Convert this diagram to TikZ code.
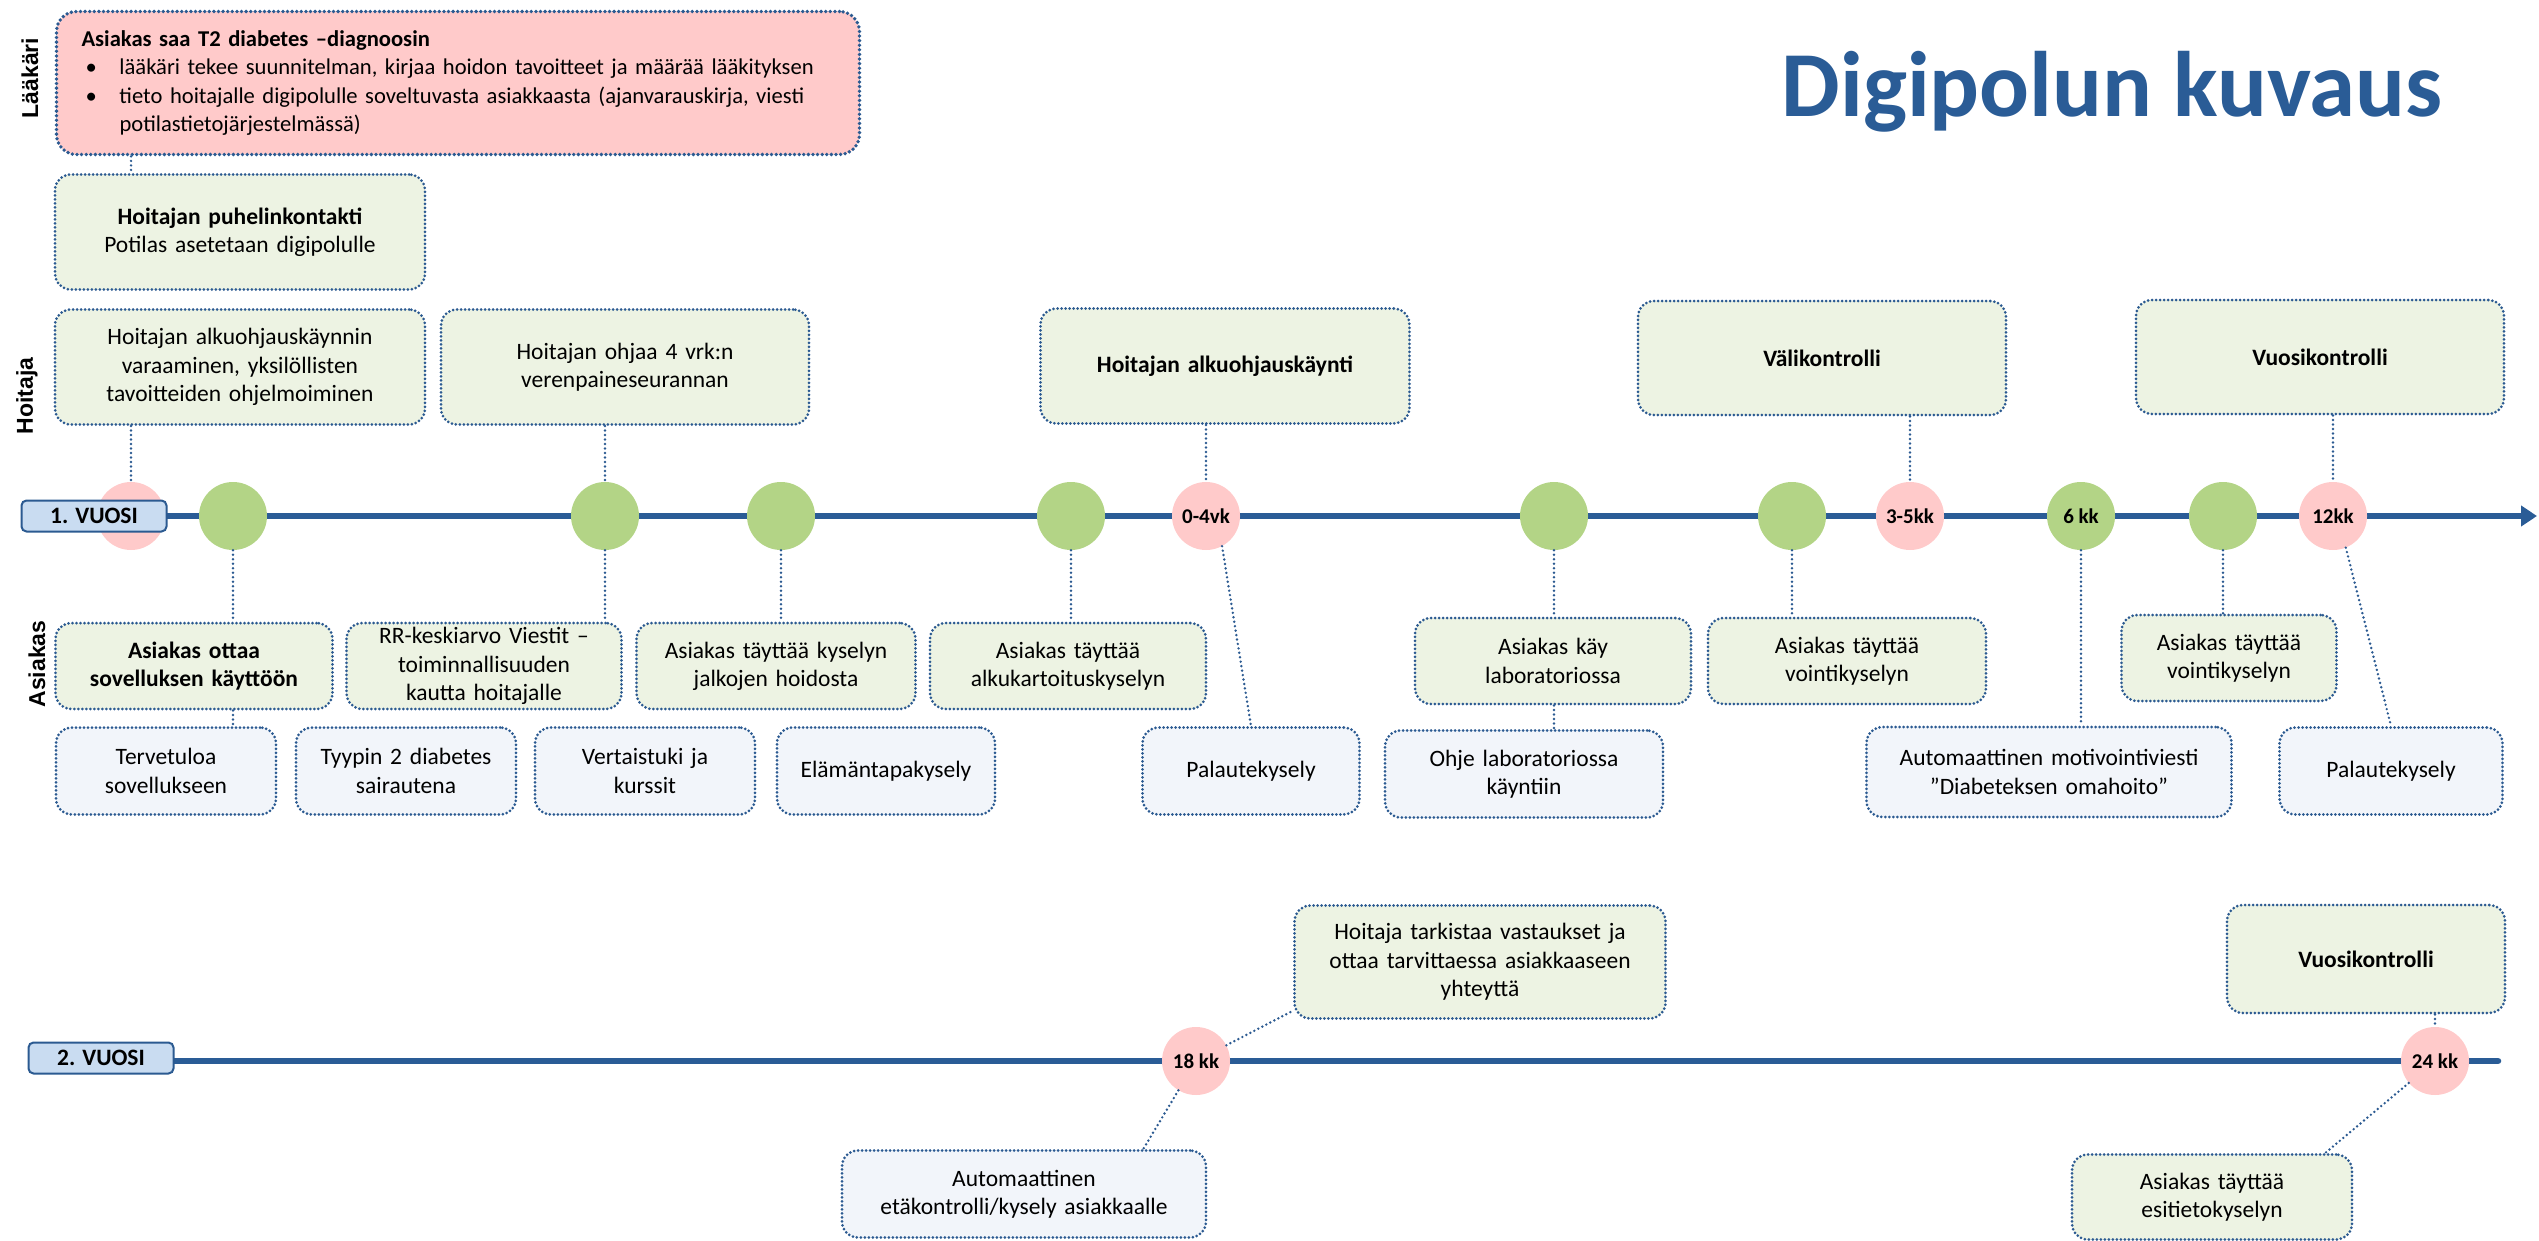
\documentclass[tikz,border=0pt]{standalone}
\usepackage{fontspec}
\setmainfont{Carlito}
\newfontfamily\lanefont{Liberation Sans}
\usetikzlibrary{arrows.meta,calc}
\definecolor{dpBlue}{HTML}{2A5C96}
\definecolor{dpEdge}{HTML}{2B5A91}
\definecolor{dpPink}{HTML}{FFCACA}
\definecolor{dpGreen}{HTML}{B3D486}
\definecolor{dpPale}{HTML}{EDF3E3}
\definecolor{dpMist}{HTML}{F2F5FA}
\definecolor{dpYearFill}{HTML}{C9DCF1}
\newcommand\dpText{\fontsize{23.5}{28.3}\selectfont}
\newcommand\dpBullet{\makebox[38pt][l]{\hspace{4pt}•}}

\begin{document}
\begin{tikzpicture}[x=1pt,y=-1pt,
    dpBox/.style={draw=dpEdge,line width=3pt,line cap=round,dash pattern=on 0pt off 4pt,
        rounded corners=16pt,inner sep=0pt,align=center,font=\dpText},
    dpBoxG/.style={dpBox,fill=dpPale},
    dpBoxB/.style={dpBox,fill=dpMist},
    dpDoc/.style={dpBox,fill=dpPink,line width=3.8pt,dash pattern=on 0pt off 4.6pt,
        rounded corners=20pt,align=left,inner xsep=25pt,font=\fontsize{22.6}{28.3}\selectfont},
    dpDotG/.style={circle,fill=dpGreen,minimum size=68pt,inner sep=0pt},
    dpDotP/.style={circle,fill=dpPink,minimum size=68pt,inner sep=0pt,
        font=\fontsize{21}{21}\selectfont\bfseries},
    dpYear/.style={draw=dpEdge,fill=dpYearFill,line width=2pt,rounded corners=5pt,
        minimum width=145pt,minimum height=31pt,inner sep=0pt,font=\dpText\bfseries},
    dpAxis/.style={draw=dpBlue,line width=6.5pt},
    dpLink/.style={draw=dpEdge,line width=2.7pt,line cap=round,dash pattern=on 0pt off 4.5pt},
    dpLane/.style={rotate=90,font=\lanefont\bfseries\fontsize{23}{23}\selectfont},
]
\useasboundingbox (0,0) rectangle (2539,1241);

% Title and lanes
\node[anchor=base,text=dpBlue,font=\fontsize{93}{100}\selectfont\bfseries] (title) at (2112,117) {Digipolun kuvaus};
\node[dpLane] (lDoc) at (30,78) {Lääkäri};
\node[dpLane] (lNurse) at (27,396) {Hoitaja};
\node[dpLane] (lClient) at (37,664) {Asiakas};

% Lääkäri
\node[dpDoc,text width=753pt,minimum height=143pt] (doc) at (458,83) {%
\mbox{\textbf{Asiakas saa T2 diabetes –diagnoosin}}\\
\mbox{\dpBullet lääkäri tekee suunnitelman, kirjaa hoidon tavoitteet ja määrää lääkityksen}\\
\mbox{\dpBullet tieto hoitajalle digipolulle soveltuvasta asiakkaasta (ajanvarauskirja, viesti}\\
\mbox{\hspace*{38pt}potilastietojärjestelmässä)}};

% Hoitaja
\node[dpBoxG,text width=370pt,minimum height=115pt] (hCall) at (240,232) {\textbf{Hoitajan puhelinkontakti}\\Potilas asetetaan digipolulle};
\node[dpBoxG,text width=370pt,minimum height=115pt] (hBook) at (240,367) {Hoitajan alkuohjauskäynnin\\varaaminen, yksilöllisten\\tavoitteiden ohjelmoiminen};
\node[dpBoxG,text width=368pt,minimum height=115pt] (hBP) at (625,367) {Hoitajan ohjaa 4 vrk:n\\verenpaineseurannan};
\node[dpBoxG,text width=369pt,minimum height=115pt] (hVisit) at (1225,366) {\textbf{Hoitajan alkuohjauskäynti}};
\node[dpBoxG,text width=368pt,minimum height=114pt] (hMid) at (1822,358) {\textbf{Välikontrolli}};
\node[dpBoxG,text width=368pt,minimum height=114pt] (hYear) at (2320,357) {\textbf{Vuosikontrolli}};

% 1. vuosi
\coordinate (start1) at (100,516);
\coordinate (end1) at (2537,516);
\draw[dpAxis,-{Triangle[length=16pt,width=20pt]}] (start1) -- (end1);
\node[dpDotP] (pS) at (131,516) {};
\node[dpDotG] (g1) at (233,516) {};
\node[dpDotG] (g2) at (605,516) {};
\node[dpDotG] (g3) at (781,516) {};
\node[dpDotG] (g4) at (1071,516) {};
\node[dpDotP] (p04) at (1206,516) {0-4vk};
\node[dpDotG] (g5) at (1554,516) {};
\node[dpDotG] (g6) at (1792,516) {};
\node[dpDotP] (p35) at (1910,516) {3-5kk};
\node[dpDotG,font=\fontsize{21}{21}\selectfont\bfseries] (g7) at (2081,516) {6 kk};
\node[dpDotG] (g8) at (2223,516) {};
\node[dpDotP] (p12) at (2333,516) {12kk};
\node[dpYear] (y1) at (94,516) {1. VUOSI};

% Asiakas
\node[dpBoxG,text width=277pt,minimum height=86pt] (aApp) at (194,666) {\textbf{Asiakas ottaa}\\\textbf{sovelluksen käyttöön}};
\node[dpBoxG,text width=275pt,minimum height=86pt] (aRR) at (484,666) {RR-keskiarvo Viestit –\\toiminnallisuuden\\kautta hoitajalle};
\node[dpBoxG,text width=279pt,minimum height=86pt] (aFeet) at (776,666) {Asiakas täyttää kyselyn\\jalkojen hoidosta};
\node[dpBoxG,text width=276pt,minimum height=86pt] (aInit) at (1068,666) {Asiakas täyttää\\alkukartoituskyselyn};
\node[dpBoxG,text width=276pt,minimum height=86pt] (aLab) at (1553,661) {Asiakas käy\\laboratoriossa};
\node[dpBoxG,text width=278pt,minimum height=86pt] (aWell) at (1847,661) {Asiakas täyttää\\vointikyselyn};
\node[dpBoxG,text width=215pt,minimum height=86pt] (aWell2) at (2229,658) {Asiakas täyttää\\vointikyselyn};

\node[dpBoxB,text width=220pt,minimum height=87pt] (bWelcome) at (166,771) {Tervetuloa\\sovellukseen};
\node[dpBoxB,text width=220pt,minimum height=87pt] (bType) at (406,771) {Tyypin 2 diabetes\\sairautena};
\node[dpBoxB,text width=220pt,minimum height=87pt] (bPeer) at (645,771) {Vertaistuki ja\\kurssit};
\node[dpBoxB,text width=218pt,minimum height=87pt] (bLife) at (886,771) {Elämäntapakysely};
\node[dpBoxB,text width=217pt,minimum height=87pt] (bFeed) at (1251,771) {Palautekysely};
\node[dpBoxB,text width=278pt,minimum height=87pt] (bLab) at (1524,774) {Ohje laboratoriossa\\käyntiin};
\node[dpBoxB,text width=365pt,minimum height=90pt] (bMotiv) at (2049,772) {Automaattinen motivointiviesti\\”Diabeteksen omahoito”};
\node[dpBoxB,text width=223pt,minimum height=87pt] (bFeed2) at (2391,771) {Palautekysely};

% 2. vuosi
\coordinate (start2) at (100,1061);
\coordinate (end2) at (2498,1061);
\draw[dpAxis,line cap=round] (start2) -- (end2);
\node[dpDotP] (p18) at (1196,1061) {18 kk};
\node[dpDotP] (p24) at (2435,1061) {24 kk};
\node[dpYear] (y2) at (101,1058) {2. VUOSI};
\node[dpBoxG,text width=371pt,minimum height=113pt] (hCheck) at (1480,962) {Hoitaja tarkistaa vastaukset ja\\ottaa tarvittaessa asiakkaaseen\\yhteyttä};
\node[dpBoxG,text width=278pt,minimum height=108pt] (hYear2) at (2366,959) {\textbf{Vuosikontrolli}};
\node[dpBoxB,text width=364pt,minimum height=87pt] (bRemote) at (1024,1194) {Automaattinen\\etäkontrolli/kysely asiakkaalle};
\node[dpBoxG,text width=280pt,minimum height=85pt] (aPre) at (2212,1197) {Asiakas täyttää\\esitietokyselyn};

% Links
\draw[dpLink] (pS |- doc.south) -- (pS |- hCall.north);
\draw[dpLink] (pS |- hBook.south) -- (pS);
\draw[dpLink] (g2 |- hBP.south) -- (g2);
\draw[dpLink] (p04 |- hVisit.south) -- (p04);
\draw[dpLink] (p35 |- hMid.south) -- (p35);
\draw[dpLink] (p12 |- hYear.south) -- (p12);
\draw[dpLink] (g1) -- (g1 |- aApp.north);
\draw[dpLink] (g1 |- aApp.south) -- (g1 |- bWelcome.north);
\draw[dpLink] (g2) -- (g2 |- aRR.north);
\draw[dpLink] (g3) -- (g3 |- aFeet.north);
\draw[dpLink] (g4) -- (g4 |- aInit.north);
\draw[dpLink] (p04.-62) -- (bFeed.north);
\draw[dpLink] (g5) -- (g5 |- aLab.north);
\draw[dpLink] (g5 |- aLab.south) -- (g5 |- bLab.north);
\draw[dpLink] (g6) -- (g6 |- aWell.north);
\draw[dpLink] (g7) -- (g7 |- bMotiv.north);
\draw[dpLink] (g8) -- (g8 |- aWell2.north);
\draw[dpLink] (p12.-68) -- (bFeed2.north);
\draw[dpLink] (p18) -- ($(hCheck.south west)!0.08!(hCheck.north west)$);
\draw[dpLink] (p18) -- ($(bRemote.north)!0.65!(bRemote.north east)$);
\draw[dpLink] (p24 |- hYear2.south) -- (p24);
\draw[dpLink] (p24) -- ($(aPre.north)!0.8!(aPre.north east)$);
\end{tikzpicture}
\end{document}
